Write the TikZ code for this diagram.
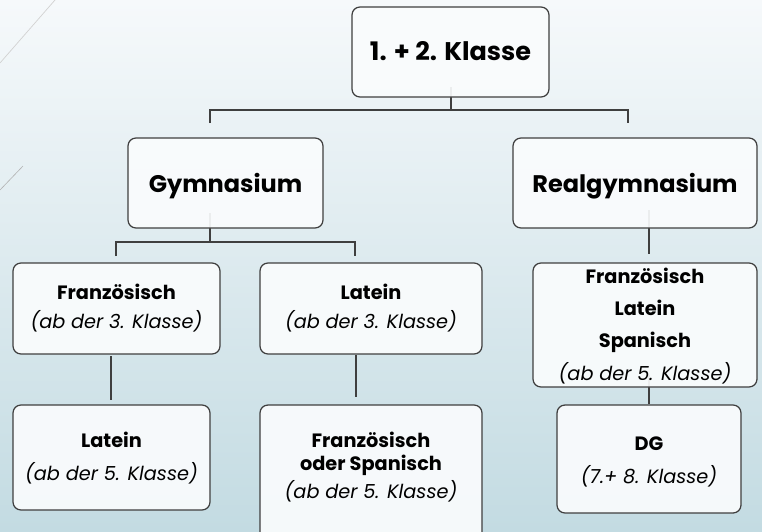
\documentclass[tikz,border=0pt]{standalone}
\usepackage{fontspec}
\setmainfont{Poppins}
\usetikzlibrary{calc}
\definecolor{bgtop}{HTML}{F6F9FB}
\definecolor{bgbot}{HTML}{C3DBE2}
\definecolor{linec}{HTML}{3F3F3F}
\definecolor{boxfill}{HTML}{FAFCFD}
\tikzset{
  box/.style={draw=linec, line width=1.25pt, fill=boxfill, fill opacity=0.92, text opacity=1,
    rounded corners=8pt, align=center, inner sep=0pt, text depth=0pt},
  conn/.style={draw=linec, line width=1.25pt},
  big/.style={font=\fontsize{24}{28}\selectfont\bfseries},
  sm/.style={font=\fontsize{19.3}{#1}\selectfont}
}
\begin{document}
\begin{tikzpicture}[x=1pt,y=-1pt]
\shade[top color=bgtop, bottom color=bgbot] (0,0) rectangle (762,531);
\useasboundingbox (0,0) rectangle (762,531);
% decorative lines
\coordinate (d1a) at (0,63); \coordinate (d1b) at (55,0);
\coordinate (d2a) at (0,190); \coordinate (d2b) at (23,166);
\draw[draw=gray!35, line width=0.7pt] (d1a) -- (d1b);
\draw[draw=gray!60, line width=0.6pt] (d2a) -- (d2b);
% connector coordinates
\coordinate (t0) at (451,87);
\coordinate (t1) at (451,110);
\coordinate (tl) at (210,110);
\coordinate (tr) at (628,110);
\coordinate (tle) at (210,123);
\coordinate (tre) at (628,123);
\coordinate (g0) at (210,213);
\coordinate (g1) at (210,242);
\coordinate (gl) at (116,242);
\coordinate (gr) at (355,242);
\coordinate (gle) at (116,256);
\coordinate (gre) at (355,256);
\coordinate (r0) at (649,210);
\coordinate (r1) at (649,254);
\coordinate (f0) at (111,356);
\coordinate (f1) at (111,400);
\coordinate (l0) at (356,355);
\coordinate (l1) at (356,397);
\coordinate (s0) at (649,375);
\coordinate (s1) at (649,404);
\draw[conn] (t0) -- (t1);
\draw[conn] (tle) -- (tl) -- (tr) -- (tre);
\draw[conn] (g0) -- (g1);
\draw[conn] (gle) -- (gl) -- (gr) -- (gre);
\draw[conn] (r0) -- (r1);
\draw[conn] (f0) -- (f1);
\draw[conn] (l0) -- (l1);
\draw[conn] (s0) -- (s1);
% boxes
\node[box, font=\fontsize{25.5}{28}\selectfont\bfseries, text height=16pt, minimum width=197pt, minimum height=90pt] (top) at (450.5,52)
  {1. + 2. Klasse};
\node[box, big, text height=18pt, minimum width=195pt, minimum height=90pt] (gym) at (225.5,183) {Gymnasium};
\node[box, big, text height=18pt, minimum width=244pt, minimum height=90pt] (real) at (635,183) {Realgymnasium};
\node[box, sm=29, text height=39pt, minimum width=207pt, minimum height=91pt] (fr1) at (116.5,308.5)
  {\textbf{Französisch}\\\textit{(ab der 3. Klasse)}};
\node[box, sm=29, text height=39pt, minimum width=222pt, minimum height=91pt] (la1) at (371,308.5)
  {\textbf{Latein}\\\textit{(ab der 3. Klasse)}};
\node[box, sm=32, text height=110pt, minimum width=224pt, minimum height=124pt] (fls) at (645,325)
  {\textbf{Französisch}\\\textbf{Latein}\\\textbf{Spanisch}\\[1pt]\textit{(ab der 5. Klasse)}};
\node[box, sm=33, text height=45pt, minimum width=197pt, minimum height=105pt] (la2) at (111.5,457.5)
  {\textbf{Latein}\\\textit{(ab der 5. Klasse)}};
\node[box, sm=23, text height=46pt, minimum width=222pt, minimum height=140pt] (fos) at (371,475)
  {\textbf{Französisch}\\\textbf{oder Spanisch}\\[3pt]\textit{(ab der 5. Klasse)}};
\node[box, sm=33, text height=48pt, minimum width=184pt, minimum height=108pt] (dg) at (649,459)
  {\textbf{DG}\\\textit{(7.+ 8. Klasse)}};
\end{tikzpicture}
\end{document}
